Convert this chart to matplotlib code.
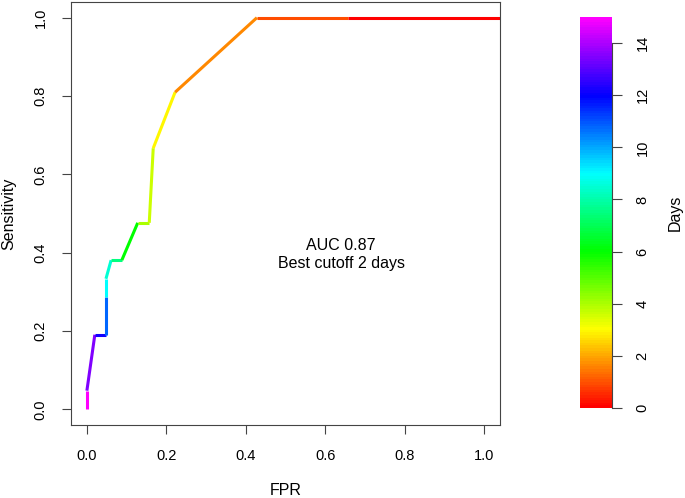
import numpy as np
import matplotlib
matplotlib.use('Agg')
import matplotlib.pyplot as plt
from matplotlib.collections import LineCollection
from matplotlib.colors import hsv_to_rgb

plt.rcParams['font.family'] = ['Liberation Sans', 'DejaVu Sans']

# ROC curve points (FPR, sensitivity)
fpr = [0.0, 0.0, 0.020, 0.048, 0.048, 0.048, 0.061, 0.088, 0.128, 0.157,
       0.167, 0.222, 0.428, 0.658, 1.05]
tpr = [0.0, 1/21, 4/21, 4/21, 6/21, 7/21, 8/21, 8/21, 10/21, 10/21,
       14/21, 17/21, 1.0, 1.0, 1.0]
# cutoff (days) used to colour each segment
seg_days = [15, 13.5, 12.2, 10.8, 9.0, 8.5, 7.5, 6.0, 4.0, 3.6, 2.9, 1.6, 0.9, 0.0]

day_max = 15
bar_ticks = [0, 2, 4, 6, 8, 10, 12, 14]
axis_ticks = [0.0, 0.2, 0.4, 0.6, 0.8, 1.0]


def day_color(d):
    # R rainbow(): hue goes from red (0) to magenta (5/6)
    h = np.asarray(d, dtype=float) / day_max * 5 / 6
    hsv = np.stack([h, np.ones_like(h), np.ones_like(h)], axis=-1)
    return hsv_to_rgb(hsv)


fig = plt.figure(figsize=(6.85, 4.98), dpi=100)
ax = fig.add_axes([71 / 685, 1 - 425 / 498, 429 / 685, 423 / 498])

pts = np.column_stack([fpr, tpr])
segs = np.stack([pts[:-1], pts[1:]], axis=1)
lc = LineCollection(segs, colors=day_color(seg_days), linewidths=2.2,
                    capstyle='butt', joinstyle='miter')
ax.add_collection(lc)

ax.set_xlim(-0.04, 1.04)
ax.set_ylim(-0.04, 1.04)
ax.set_xticks(axis_ticks)
ax.set_yticks(axis_ticks)
ax.set_xticklabels([f'{t:.1f}' for t in axis_ticks])
ax.set_yticklabels([f'{t:.1f}' for t in axis_ticks], rotation=90, va='center')
ax.tick_params(direction='out', length=6.5, width=0.8, color='#444444',
               labelsize=10.5, pad=10.5)
for s in ax.spines.values():
    s.set_color('#444444')
    s.set_linewidth(0.8)

ax.set_xlabel('FPR', fontsize=11.5, va='center')
ax.xaxis.set_label_coords(0.5, -65 / 423)
ax.set_ylabel('Sensitivity', fontsize=11.5, va='center')
ax.yaxis.set_label_coords(-62 / 429, 0.5)

ax.text(0.64, 0.395, 'AUC 0.87\nBest cutoff 2 days', ha='center', va='center',
        fontsize=11.5, linespacing=1.25)

# colour bar
cax = fig.add_axes([580 / 685, 1 - 408 / 498, 32 / 685, 391 / 498])
levels = np.linspace(0, day_max, 150)
cax.imshow(day_color(levels)[:, None, :], origin='lower', aspect='auto',
           extent=[0, 1, 0, day_max], interpolation='nearest')
cax.set_xlim(0, 1)
cax.set_ylim(0, day_max)
cax.set_xticks([])
cax.yaxis.tick_right()
cax.set_yticks(bar_ticks)
cax.set_yticklabels([str(t) for t in bar_ticks], rotation=90, va='center')
cax.tick_params(axis='y', direction='out', length=7, width=0.8, color='#444444',
                labelsize=10.5, pad=10)
for side in ['top', 'bottom', 'left']:
    cax.spines[side].set_visible(False)
cax.spines['right'].set_bounds(0, 14)
cax.spines['right'].set_color('#444444')
cax.spines['right'].set_linewidth(0.8)
cax.yaxis.set_label_position('right')
cax.set_ylabel('Days', fontsize=11.5, rotation=90, va='center')
cax.yaxis.set_label_coords(1 + 63 / 32, 0.5)

fig.savefig('out.png', dpi=100, facecolor='white')
